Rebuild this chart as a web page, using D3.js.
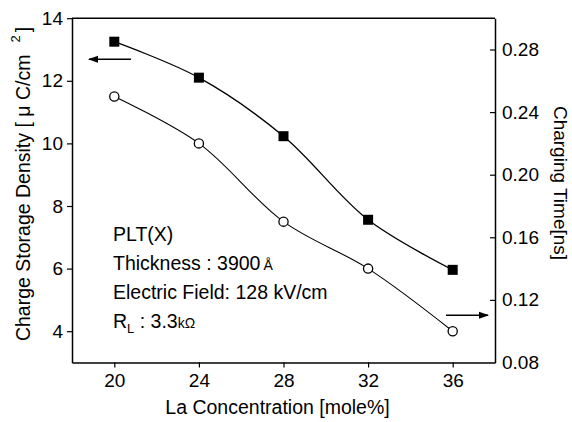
<!DOCTYPE html>
<html><head><meta charset="utf-8">
<script src="https://cdn.jsdelivr.net/npm/d3@7"></script>
<style>
body{margin:0;background:#fff;}
svg{display:block;font-family:"Liberation Sans",Arial,sans-serif;}
</style></head>
<body>
<svg id="c" width="572" height="422"></svg>
<script>
const concentration = [20, 24, 28, 32, 36];
const chargeDensity = [13.25, 12.1, 10.23, 7.56, 5.96];
const chargingTime = [0.25, 0.22, 0.17, 0.14, 0.10];
const xTicks = [20, 24, 28, 32, 36];
const leftTicks = [4, 6, 8, 10, 12, 14];
const rightTicks = [0.08, 0.12, 0.16, 0.20, 0.24, 0.28];

const svg = d3.select("#c");
const L = 72, R = 495, T = 18.2, B = 362.5;
const x = d3.scaleLinear([18, 38], [L, R]);
const yL = d3.scaleLinear([3, 14], [B, T]);
const yR = d3.scaleLinear([0.08, 0.30], [B, T]);
const FS = 19;

// frame top
svg.append("line").attr("x1", L).attr("x2", R).attr("y1", T).attr("y2", T)
  .attr("stroke", "#000").attr("stroke-width", 1.5);

const gx = svg.append("g").attr("transform", `translate(0,${B})`)
  .call(d3.axisBottom(x).tickValues(xTicks).tickSizeInner(5).tickSizeOuter(0).tickPadding(6).tickFormat(d3.format("d")));
const gl = svg.append("g").attr("transform", `translate(${L},0)`)
  .call(d3.axisLeft(yL).tickValues(leftTicks).tickSizeInner(5).tickSizeOuter(0).tickPadding(4).tickFormat(d3.format("d")));
const gr = svg.append("g").attr("transform", `translate(${R},0)`)
  .call(d3.axisRight(yR).tickValues(rightTicks).tickSizeInner(-5).tickSizeOuter(0).tickPadding(7).tickFormat(d3.format(".2f")));
[gx, gl, gr].forEach(g => {
  g.select(".domain").attr("stroke-width", 1.5);
  g.selectAll(".tick line").attr("stroke-width", 1.2);
  g.selectAll("text").attr("font-size", FS).attr("font-family", "Liberation Sans, Arial, sans-serif").attr("fill", "#000");
});
gr.selectAll(".tick").filter(d => d === 0.08).select("line").remove();

// lines
const sq = concentration.map((c, i) => [x(c), yL(chargeDensity[i])]);
const ci = concentration.map((c, i) => [x(c), yR(chargingTime[i])]);
const line = d3.line().curve(d3.curveCatmullRom.alpha(0.5));
svg.append("path").attr("d", line(sq)).attr("fill", "none").attr("stroke", "#000").attr("stroke-width", 1.3);
svg.append("path").attr("d", line(ci)).attr("fill", "none").attr("stroke", "#000").attr("stroke-width", 1.1);

svg.selectAll("rect.sq").data(sq).join("rect").attr("class", "sq")
  .attr("x", d => d[0] - 5).attr("y", d => d[1] - 5).attr("width", 10).attr("height", 10).attr("fill", "#000");
svg.selectAll("circle.ci").data(ci).join("circle").attr("class", "ci")
  .attr("cx", d => d[0]).attr("cy", d => d[1]).attr("r", 4.6)
  .attr("fill", "#fff").attr("stroke", "#000").attr("stroke-width", 1.3);

// arrows
const defs = svg.append("defs");
defs.append("marker").attr("id", "ah").attr("viewBox", "0 0 10 10").attr("refX", 9).attr("refY", 5)
  .attr("markerWidth", 10).attr("markerHeight", 10).attr("markerUnits", "userSpaceOnUse").attr("orient", "auto")
  .append("path").attr("d", "M0,1.5 L10,5 L0,8.5 Z").attr("fill", "#000");
svg.append("line").attr("x1", 131).attr("y1", 59.3).attr("x2", 89).attr("y2", 59.3)
  .attr("stroke", "#000").attr("stroke-width", 1.5).attr("marker-end", "url(#ah)");
svg.append("line").attr("x1", 446).attr("y1", 315.3).attr("x2", 488).attr("y2", 315.3)
  .attr("stroke", "#000").attr("stroke-width", 1.5).attr("marker-end", "url(#ah)");

// axis titles
svg.append("text").attr("x", 277.5).attr("y", 414).attr("text-anchor", "middle").attr("font-size", 19.5)
  .text("La Concentration [mole%]");
svg.append("text").attr("transform", "translate(554,183) rotate(90)").attr("text-anchor", "middle").attr("font-size", 19)
  .text("Charging Time[ns]");
const lt = svg.append("text").attr("transform", "translate(29.5,184) rotate(-90)").attr("text-anchor", "middle").attr("font-size", 19.5);
lt.append("tspan").text("Charge Storage Density [ \u03bc C/cm");
lt.append("tspan").attr("dx", 12).attr("dy", -10).attr("font-size", 13).text("2");
lt.append("tspan").attr("dx", 3).attr("dy", 10).text("]");

// annotations
const ax = 113;
svg.append("text").attr("x", ax).attr("y", 241).attr("font-size", 19.5).text("PLT(X)");
const t2 = svg.append("text").attr("x", ax).attr("y", 270).attr("font-size", 19.5);
t2.append("tspan").text("Thickness : 3900");
t2.append("tspan").attr("dx", 3).attr("font-size", 14).text("\u00c5");
svg.append("text").attr("x", ax).attr("y", 299).attr("font-size", 19.5).text("Electric Field: 128 kV/cm");
const t4 = svg.append("text").attr("x", ax).attr("y", 328).attr("font-size", 19.5);
t4.append("tspan").text("R");
t4.append("tspan").attr("dy", 5).attr("font-size", 13).text("L");
t4.append("tspan").attr("dy", -5).text(" : 3.3");
t4.append("tspan").attr("font-size", 14).text("k\u03a9");
</script>
</body></html>
